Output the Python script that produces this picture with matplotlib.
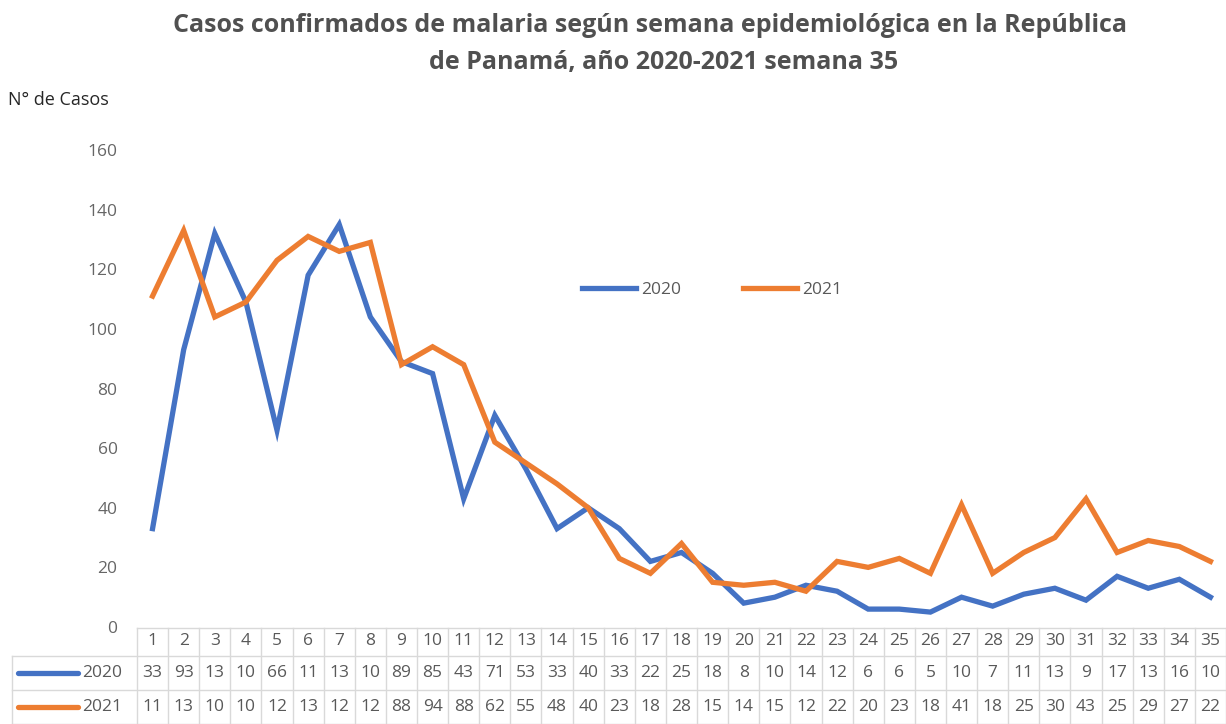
import numpy as np
import matplotlib
matplotlib.use("Agg")
import matplotlib.pyplot as plt
from matplotlib.transforms import blended_transform_factory
from matplotlib.lines import Line2D

plt.rcParams['font.family'] = ['Open Sans', 'DejaVu Sans']

weeks = list(range(1, 36))
cases_2020 = [33, 93, 132, 109, 66, 118, 135, 104, 89, 85, 43, 71, 53, 33, 40, 33, 22, 25,
              18, 8, 10, 14, 12, 6, 6, 5, 10, 7, 11, 13, 9, 17, 13, 16, 10]
cases_2021 = [111, 133, 104, 109, 123, 131, 126, 129, 88, 94, 88, 62, 55, 48, 40, 23, 18, 28,
              15, 14, 15, 12, 22, 20, 23, 18, 41, 18, 25, 30, 43, 25, 29, 27, 22]
series_names = ['2020', '2021']
colors = ['#4472C4', '#ED7D31']
y_ticks = [0, 20, 40, 60, 80, 100, 120, 140, 160]

W, H = 1226, 724
fs = 12.5
fig = plt.figure(figsize=(W / 100, H / 100), dpi=100)
ax = fig.add_axes([137 / W, 1 - 627 / H, 1 - 137 / W, (627 - 150) / H])

for vals, name, c in zip([cases_2020, cases_2021], series_names, colors):
    ax.plot(weeks, vals, color=c, lw=3.8, label=name, solid_joinstyle='miter')

ax.set_xlim(0.5, 35.5)
ax.set_ylim(0, 160)
ax.set_yticks(y_ticks)
ax.set_xticks([])
ax.tick_params(axis='y', length=0, pad=14, labelsize=fs, labelcolor='#666666')
for s in ax.spines.values():
    s.set_visible(False)

leg = ax.legend(loc='center', bbox_to_anchor=(712 / W, 1 - 290 / H), bbox_transform=fig.transFigure,
                ncol=2, frameon=False, fontsize=fs, handlelength=3.1, columnspacing=3.6,
                handletextpad=0.3, labelcolor='#595959')

fig.text(650 / W, 1 - 26 / H, 'Casos confirmados de malaria según semana epidemiológica en la República',
         ha='center', va='center', fontsize=18, fontweight='bold', color='#505050')
fig.text(664 / W, 1 - 63 / H, 'de Panamá, año 2020-2021 semana 35',
         ha='center', va='center', fontsize=18, fontweight='bold', color='#505050')
fig.text(8 / W, 1 - 100 / H, 'N° de Casos', ha='left', va='center', fontsize=13, color='#262626')

# data table under the chart
tr = blended_transform_factory(ax.transData, fig.transFigure)
grid_c = '#D9D9D9'
row_y = [641, 673, 707]
row_lines = [628, 656, 690, 724]
bounds = [w - 0.5 for w in weeks] + [35.5]
for b in bounds:
    fig.add_artist(Line2D([b, b], [1 - row_lines[0] / H, 0], transform=tr, color=grid_c, lw=1))
fig.add_artist(Line2D([0.5, 35.5], [1 - row_lines[0] / H] * 2, transform=tr, color=grid_c, lw=1))
for yl in row_lines[1:]:
    fig.add_artist(Line2D([12 / W, 1], [1 - yl / H] * 2, transform=fig.transFigure, color=grid_c, lw=1))
fig.add_artist(Line2D([12 / W, 12 / W], [1 - row_lines[1] / H, 0], transform=fig.transFigure, color=grid_c, lw=1))

for w in weeks:
    fig.text(w, 1 - row_y[0] / H, str(w), transform=tr, ha='center', va='center', fontsize=fs, color='#595959')
for vals, name, c, yy in zip([cases_2020, cases_2021], series_names, colors, row_y[1:]):
    for w, v in zip(weeks, vals):
        fig.text(w, 1 - yy / H, str(v)[:2], transform=tr, ha='center', va='center', fontsize=fs, color='#595959')
    fig.add_artist(Line2D([18 / W, 78 / W], [1 - yy / H] * 2, transform=fig.transFigure, color=c, lw=3.8,
                          solid_capstyle='round'))
    fig.text(82 / W, 1 - yy / H, name, ha='left', va='center', fontsize=fs, color='#595959')

fig.savefig('out.png', dpi=100)
